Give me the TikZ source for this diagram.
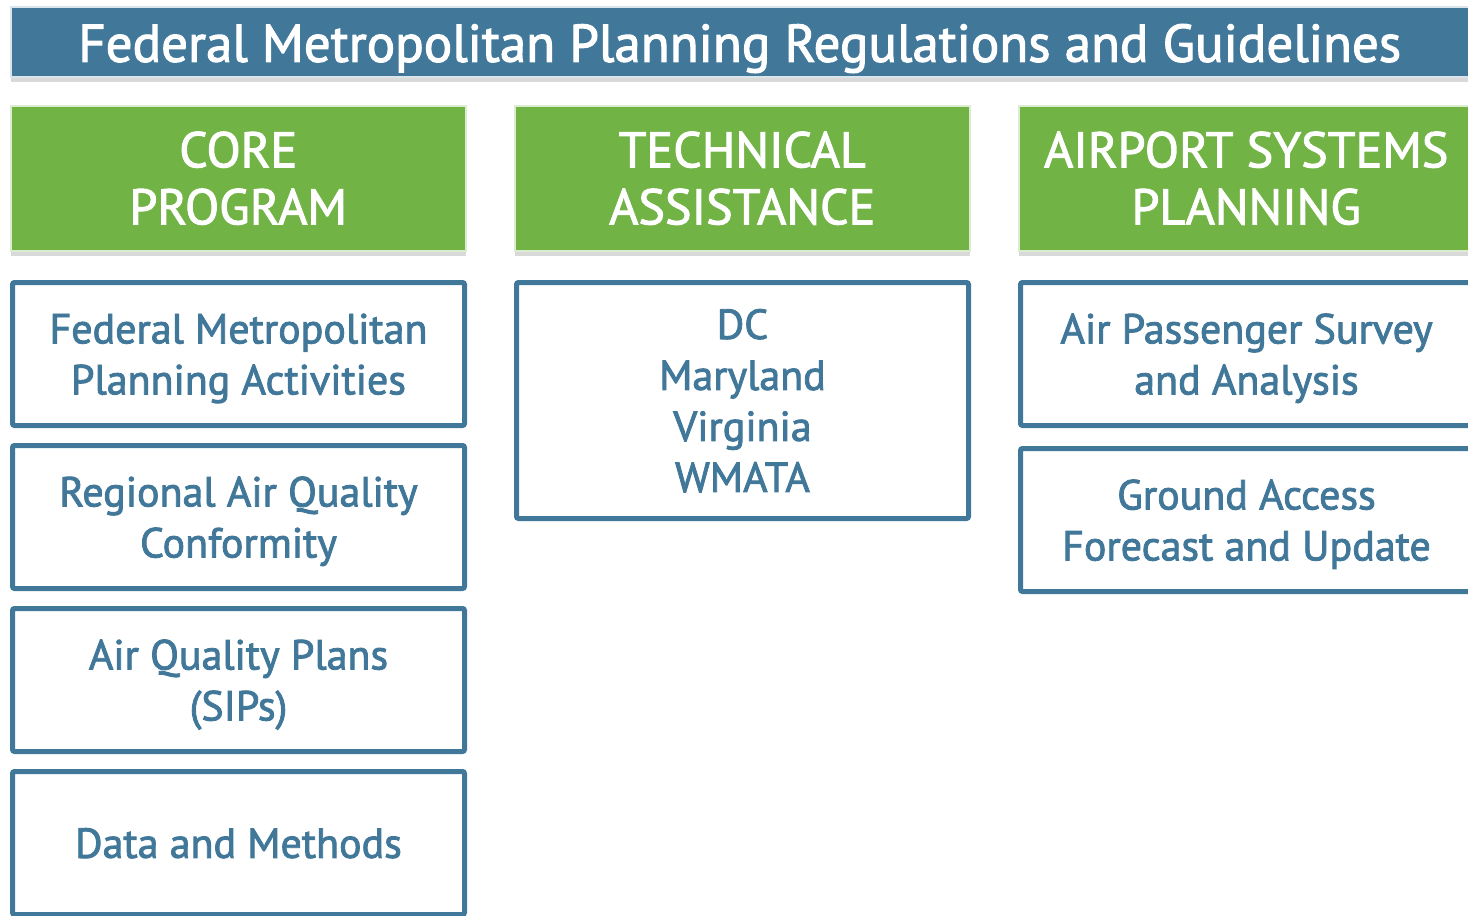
\documentclass[tikz,border=0pt]{standalone}
\usepackage{fontspec}
\setmainfont{PT Sans}[FakeBold=2]
\usetikzlibrary{shadows}
\definecolor{planblue}{HTML}{41789A}
\definecolor{plangreen}{HTML}{72B346}

\begin{document}
\begin{tikzpicture}[x=1pt, y=-1pt,
    softshadow/.style={drop shadow={shadow xshift=0pt, shadow yshift=-5pt, opacity=.3}},
    titlebar/.style={fill=planblue, draw=white!80!planblue, line width=1.5pt, softshadow,
        text=white, anchor=north west, inner sep=0pt, minimum width=1470, minimum height=70,
        font=\fontsize{53}{56}\selectfont},
    headbox/.style={fill=plangreen, draw=white!75!plangreen, line width=1.5pt, softshadow,
        text=white, align=center, anchor=north west, inner sep=0pt,
        minimum width=455, minimum height=145, font=\fontsize{50}{57}\selectfont},
    itembox/.style={draw=planblue, line width=5pt, rounded corners=2pt, fill=white,
        text=planblue, align=center, anchor=north west, inner sep=0pt, text depth=0pt,
        minimum width=452, minimum height=143, font=\fontsize{42}{51}\selectfont}]
    \useasboundingbox (0,0) rectangle (1468,916);
    \clip (0,0) rectangle (1468,916);

    % Titel.
    \node[titlebar] (title) at (10,6) {\hspace*{-12pt}\raisebox{-20pt}[0pt][0pt]{Federal Metropolitan Planning Regulations and Guidelines}};

    % Kopfzeilen.
    \node[headbox] (core) at (10,105) {CORE\\PROGRAM};
    \node[headbox] (tech) at (514,105) {TECHNICAL\\ASSISTANCE};
    \node[headbox] (airport) at (1018,105) {AIRPORT SYSTEMS\\PLANNING};

    % Spalte 1.
    \node[itembox] (fedact) at (10,280) {Federal Metropolitan\\Planning Activities};
    \node[itembox] (conform) at (10,443) {Regional Air Quality\\Conformity};
    \node[itembox] (sips) at (10,606) {Air Quality Plans\\(SIPs)};
    \node[itembox] (data) at (10,769) {Data and Methods};

    % Spalte 2.
    \node[itembox, minimum height=236] (states) at (514,280) {DC\\Maryland\\Virginia\\WMATA};

    % Spalte 3.
    \node[itembox] (survey) at (1018,280) {Air Passenger Survey\\and Analysis};
    \node[itembox] (ground) at (1018,446) {Ground Access\\Forecast and Update};
\end{tikzpicture}
\end{document}
